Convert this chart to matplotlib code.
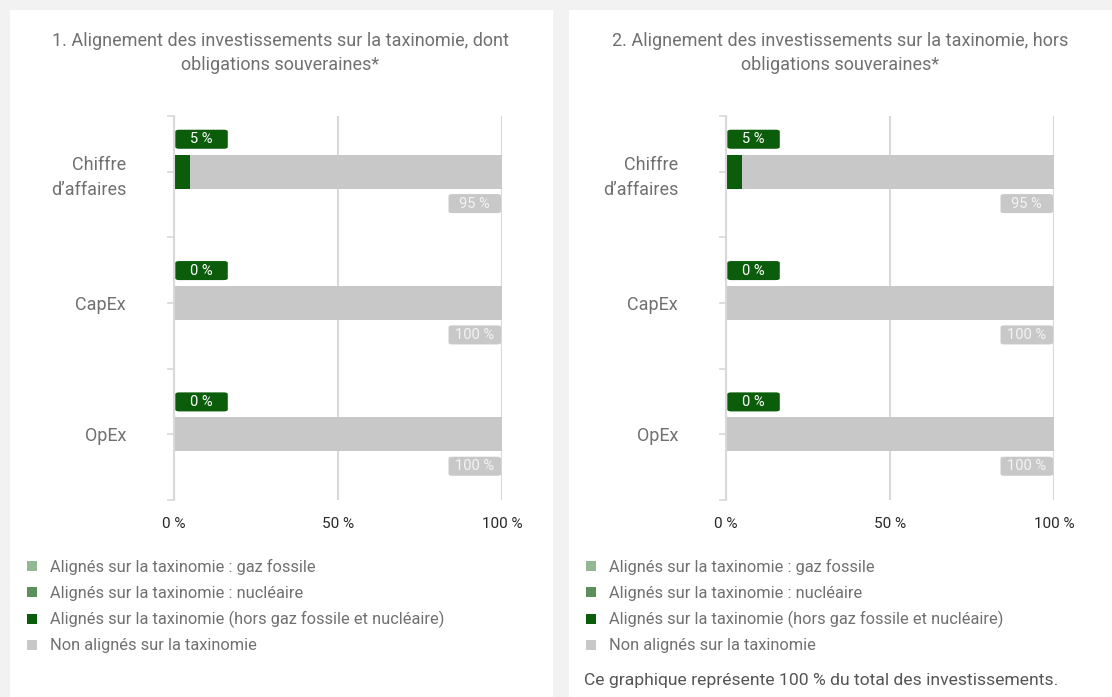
import matplotlib.pyplot as plt
from matplotlib.patches import Rectangle, FancyBboxPatch

W, H = 1112, 697

categories = ["Chiffre\nd’affaires", "CapEx", "OpEx"]
titles = ["1. Alignement des investissements sur la taxinomie, dont\nobligations souveraines*",
          "2. Alignement des investissements sur la taxinomie, hors\nobligations souveraines*"]

# panel 1 : dont obligations souveraines
gaz_1 = [0, 0, 0]
nucl_1 = [0, 0, 0]
hors_1 = [5, 0, 0]
non_1 = [95, 100, 100]
# panel 2 : hors obligations souveraines
gaz_2 = [0, 0, 0]
nucl_2 = [0, 0, 0]
hors_2 = [5, 0, 0]
non_2 = [95, 100, 100]

legend_labels = ["Alignés sur la taxinomie : gaz fossile",
                 "Alignés sur la taxinomie : nucléaire",
                 "Alignés sur la taxinomie (hors gaz fossile et nucléaire)",
                 "Non alignés sur la taxinomie"]
xticks = [0, 50, 100]
xtick_labels = ["0 %", "50 %", "100 %"]
footnote = "Ce graphique représente 100 % du total des investissements."

c_gaz = "#93b793"
c_nucl = "#5b8f5b"
c_hors = "#0b5d0b"
c_non = "#c8c8c8"
grid_c = "#d9d9d9"
txt_c = "#707070"

plt.rcParams['font.family'] = ['Roboto', 'DejaVu Sans']


def fx(px):
    return px / W


def fy(py):
    return 1 - py / H


fig = plt.figure(figsize=(W / 100, H / 100), dpi=100)
fig.patch.set_facecolor("#f2f2f2")

# white panels
for x0, x1 in [(10, 553), (569, 1112)]:
    fig.patches.append(Rectangle((fx(x0), 0), fx(x1 - x0), fy(10), transform=fig.transFigure,
                                 facecolor="white", edgecolor="none", zorder=-5))


def draw_panel(x_axis, title_x, gaz, nucl, hors, non, title, legend_x, note):
    ax = fig.add_axes([fx(x_axis), fy(500), fx(328), (500 - 116) / H])
    ax.set_facecolor("white")
    y = list(range(len(categories)))
    left = [0] * len(y)
    for vals, col in [(gaz, c_gaz), (nucl, c_nucl), (hors, c_hors), (non, c_non)]:
        ax.barh(y, vals, left=left, height=0.26, color=col, zorder=3)
        left = [a + b for a, b in zip(left, vals)]
    ax.set_xlim(0, 100)
    ax.set_ylim(2.5, -0.424)
    ax.set_yticks(y)
    ax.set_yticklabels(categories, fontsize=13, color=txt_c, linespacing=1.55)
    ax.set_yticks([-0.424, 0.5, 1.5, 2.5], minor=True)
    ax.tick_params(axis='y', which='both', length=5, color=grid_c, width=1.2, pad=29.5)
    ax.set_xticks(xticks)
    ax.set_xticklabels(xtick_labels, fontsize=11, color="#262626")
    ax.tick_params(axis='x', length=0, pad=12.5)
    ax.grid(axis='x', color=grid_c, linewidth=1.5, zorder=0)
    for s in ["top", "right", "bottom"]:
        ax.spines[s].set_visible(False)
    ax.spines["left"].set_color(grid_c)
    ax.spines["left"].set_linewidth(1.5)
    ax.spines["left"].set_zorder(4)

    # value labels
    bw, bh = 16.0, 0.145
    for i in y:
        al = gaz[i] + nucl[i] + hors[i]
        gy = i - 0.247
        ax.add_patch(FancyBboxPatch((0.4, gy - bh / 2), bw, bh,
                                    boxstyle="round,pad=0,rounding_size=1.2",
                                    mutation_aspect=0.012, facecolor=c_hors,
                                    edgecolor="none", zorder=5, clip_on=False))
        ax.text(0.4 + bw / 2, gy, f"{al:g} %", ha="center", va="center",
                fontsize=10.5, color="white", zorder=6)
        tot = al + non[i]
        ry = i + 0.243
        ax.add_patch(FancyBboxPatch((tot - 0.3 - bw, ry - bh / 2), bw, bh,
                                    boxstyle="round,pad=0,rounding_size=1.2",
                                    mutation_aspect=0.012, facecolor=c_non,
                                    edgecolor="none", zorder=5, clip_on=False))
        ax.text(tot - 0.3 - bw / 2, ry, f"{non[i]:g} %", ha="center", va="center",
                fontsize=10.5, color="#f4f4f4", zorder=6)

    fig.text(fx(title_x), fy(53), title, ha="center", va="center", fontsize=13,
             color=txt_c, linespacing=1.45)

    # legend
    for k, (lab, col) in enumerate(zip(legend_labels, [c_gaz, c_nucl, c_hors, c_non])):
        yy = 566 + k * 26.3
        fig.patches.append(Rectangle((fx(legend_x), fy(yy + 5)), fx(10), 10 / H,
                                     transform=fig.transFigure, facecolor=col,
                                     edgecolor="none"))
        fig.text(fx(legend_x + 23), fy(yy + 1), lab, ha="left", va="center", fontsize=11.8,
                 color=txt_c)
    if note:
        fig.text(fx(legend_x - 2), fy(681), note, ha="left", va="center", fontsize=12.6,
                 color="#555555")


draw_panel(174, 280, gaz_1, nucl_1, hors_1, non_1, titles[0], 27, None)
draw_panel(726, 840, gaz_2, nucl_2, hors_2, non_2, titles[1], 586, footnote)

fig.savefig("out.png", dpi=100, facecolor=fig.get_facecolor())
